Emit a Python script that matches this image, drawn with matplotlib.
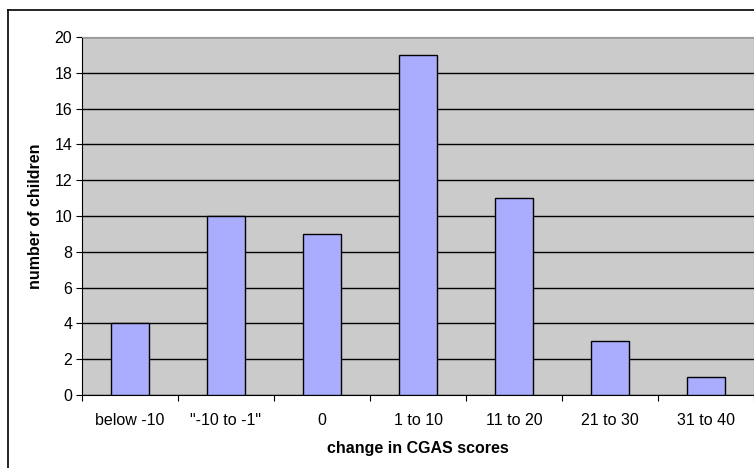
import matplotlib
matplotlib.use("Agg")
import matplotlib.pyplot as plt
from matplotlib.lines import Line2D

categories = ["below -10", '"-10 to -1"', "0", "1 to 10", "11 to 20", "21 to 30", "31 to 40"]
counts = [4, 10, 9, 19, 11, 3, 1]
y_ticks = [0, 2, 4, 6, 8, 10, 12, 14, 16, 18, 20]

plt.rcParams['font.family'] = ['Liberation Sans', 'DejaVu Sans']

fig = plt.figure(figsize=(7.54, 4.68), dpi=100)
ax = fig.add_axes([82 / 754, 1 - 395 / 468, 672 / 754, 358 / 468])

# outer chart frame (only top and left visible)
fig.add_artist(Line2D([8 / 754, 8 / 754], [0, 1 - 10 / 468], color="black", lw=1.2,
                      transform=fig.transFigure))
fig.add_artist(Line2D([8 / 754, 1], [1 - 10 / 468, 1 - 10 / 468], color="black", lw=1.2,
                      transform=fig.transFigure))

ax.set_facecolor("#cbcbcb")
x = range(len(categories))
ax.bar(x, counts, width=0.4, color="#aaadfe", edgecolor="black", linewidth=1.0, zorder=3)

ax.set_xlim(-0.5, len(categories) - 0.5)
ax.set_ylim(0, 20)
ax.set_yticks(y_ticks)
ax.yaxis.grid(True, color="black", linewidth=1.0, zorder=1)
ax.set_axisbelow(True)

# category separators as x ticks, labels in between
ax.set_xticks([i - 0.5 for i in range(len(categories) + 1)])
ax.set_xticklabels([])
ax.set_xticks(list(x), minor=True)
ax.set_xticklabels(categories, minor=True, fontsize=11.5)
ax.tick_params(axis="x", which="minor", length=0, pad=13)
ax.tick_params(axis="x", which="major", length=4, direction="out", color="black")
ax.tick_params(axis="y", length=4, direction="out", labelsize=11.5, pad=3)

for s in ["top", "right"]:
    ax.spines[s].set_color("#999999")
ax.spines["left"].set_color("black")
ax.spines["bottom"].set_color("black")

ax.set_ylabel("number of children", fontsize=11.5, fontweight="bold", labelpad=8)
ax.set_xlabel("change in CGAS scores", fontsize=11.5, fontweight="bold", labelpad=9)

fig.savefig("out.png", dpi=100)
